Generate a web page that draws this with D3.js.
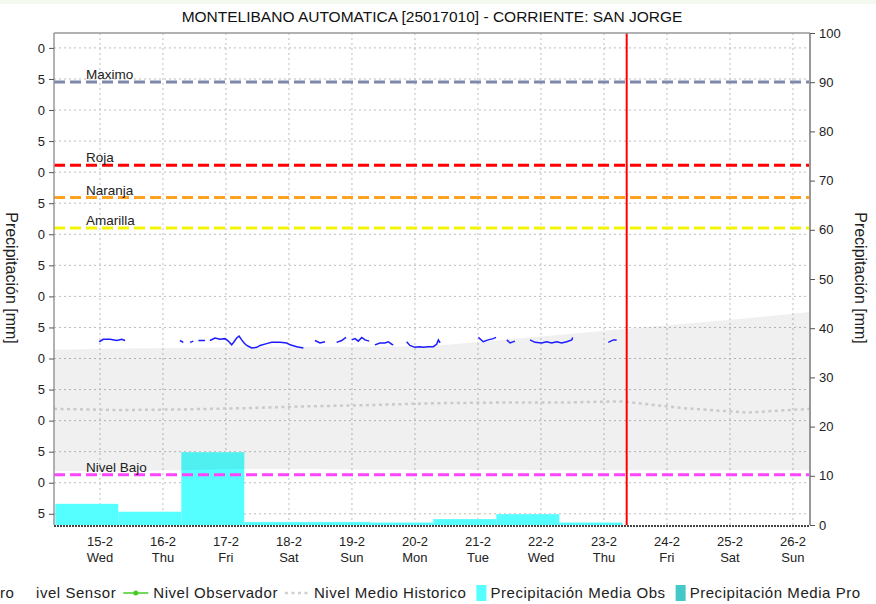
<!DOCTYPE html>
<html lang="es">
<head>
    <meta charset="UTF-8">
    <title>MONTELIBANO AUTOMATICA [25017010]</title>
    <script src="https://d3js.org/d3.v7.min.js"></script>
    <style>
        body {
            margin: 0;
            background-color: #ffffff;
        }

        svg {
            display: block;
            font-family: "Liberation Sans", Arial, sans-serif;
        }

        .grid line {
            stroke: #bdbdbd;
            stroke-width: 1;
            stroke-dasharray: 2, 3;
        }

        .tick text {
            fill: #222;
        }
    </style>
</head>

<body>
<svg width="876" height="604"></svg>

<script>
    const chartTitle = "MONTELIBANO AUTOMATICA [25017010] - CORRIENTE: SAN JORGE";
    const axisLabel = "Precipitación [mm]";

    // dias del eje x (Feb 2023)
    const dayTicks = ["15", "16", "17", "18", "19", "20", "21", "22", "23", "24", "25", "26"];
    const dayNames = ["Wed", "Thu", "Fri", "Sat", "Sun", "Mon", "Tue", "Wed", "Thu", "Fri", "Sat", "Sun"];

    // eje izquierdo (nivel) y derecho (precipitacion)
    const levelTicks = [8.0, 7.5, 7.0, 6.5, 6.0, 5.5, 5.0, 4.5, 4.0, 3.5, 3.0, 2.5, 2.0, 1.5, 1.0, 0.5];
    const precipTicks = [0, 10, 20, 30, 40, 50, 60, 70, 80, 90, 100];

    // precipitacion media observada, dia de 07:00 a 07:00
    const precipDays = ["14", "15", "16", "17", "18", "19", "20", "21", "22"];
    const precipObs = [4.3, 2.7, 14.8, 0.6, 0.6, 0.5, 1.2, 2.2, 0.5];

    // nivel historico (banda min-max y media)
    const histDays = ["14", "15", "16", "17", "18", "19", "20", "21", "22", "23", "24", "25", "26"];
    const histUpper = [3.14, 3.16, 3.17, 3.18, 3.19, 3.19, 3.20, 3.29, 3.38, 3.47, 3.56, 3.65, 3.75];
    const histLower = [1.19, 1.19, 1.20, 1.22, 1.22, 1.21, 1.21, 1.21, 1.20, 1.20, 1.20, 1.20, 1.20];
    const histMean = [2.19, 2.17, 2.18, 2.20, 2.23, 2.25, 2.28, 2.29, 2.29, 2.31, 2.20, 2.13, 2.19];

    // umbrales
    const thresholdNames = ["Maximo", "Roja", "Naranja", "Amarilla", "Nivel Bajo"];
    const thresholdLevels = [7.45, 6.11, 5.59, 5.10, 1.13];
    const thresholdColors = ["#7d88aa", "#ff0000", "#ffa21f", "#f5f500", "#ff44ff"];

    // nivel sensor, null = sin dato
    const sensorReadings = [
        ["14 23:45", 3.27], ["15 01:15", 3.31], ["15 03:50", 3.31], ["15 06:25", 3.29], ["15 08:15", 3.31], ["15 09:35", 3.29],
        null,
        ["16 06:30", 3.29], ["16 07:45", 3.26],
        null,
        ["16 10:20", 3.26], ["16 11:35", 3.28],
        null,
        ["16 13:30", 3.29], ["16 16:00", 3.29],
        null,
        ["16 17:55", 3.29], ["16 19:50", 3.33], ["16 21:45", 3.31], ["16 23:40", 3.32], ["17 00:55", 3.28], ["17 02:10", 3.22],
        ["17 03:05", 3.27], ["17 04:05", 3.33], ["17 05:00", 3.36], ["17 06:00", 3.30], ["17 06:55", 3.25], ["17 07:55", 3.21],
        ["17 08:55", 3.19], ["17 09:50", 3.17], ["17 11:45", 3.18], ["17 13:00", 3.21], ["17 15:30", 3.24], ["17 17:25", 3.26],
        ["17 20:35", 3.26], ["17 23:10", 3.25], ["18 00:25", 3.22], ["18 03:00", 3.19], ["18 05:30", 3.17],
        null,
        ["18 09:55", 3.29], ["18 11:50", 3.25], ["18 13:45", 3.27],
        null,
        ["18 18:10", 3.26], ["18 20:05", 3.29], ["18 21:45", 3.34],
        null,
        ["18 23:55", 3.30], ["19 01:10", 3.32], ["19 02:25", 3.28], ["19 03:45", 3.34], ["19 05:00", 3.30], ["19 06:35", 3.28],
        null,
        ["19 08:45", 3.22], ["19 10:40", 3.25], ["19 12:35", 3.25], ["19 13:50", 3.27], ["19 15:10", 3.23], ["19 15:45", 3.22],
        null,
        ["19 20:50", 3.27], ["19 22:05", 3.21], ["20 00:00", 3.18], ["20 01:55", 3.19], ["20 03:10", 3.18], ["20 05:05", 3.19],
        ["20 07:00", 3.19], ["20 08:15", 3.23], ["20 08:55", 3.30], ["20 09:35", 3.25],
        null,
        ["21 00:10", 3.34], ["21 02:00", 3.27], ["21 03:55", 3.30], ["21 05:50", 3.32], ["21 06:55", 3.34],
        null,
        ["21 11:00", 3.30], ["21 12:15", 3.25], ["21 14:05", 3.28],
        null,
        ["21 19:50", 3.30], ["21 21:45", 3.26], ["22 00:15", 3.25], ["22 02:10", 3.27], ["22 04:05", 3.25], ["22 06:00", 3.27],
        ["22 07:55", 3.25], ["22 09:50", 3.27], ["22 11:45", 3.30], ["22 12:05", 3.34],
        null,
        ["23 01:40", 3.26], ["23 03:35", 3.30], ["23 04:50", 3.30]
    ];

    const nowTime = "23 08:40";

    // leyenda (recortada a la izquierda como en la imagen)
    const legendNames = ["ro", "ivel Sensor", "Nivel Observador", "Nivel Medio Historico", "Precipitación Media Obs", "Precipitación Media Pro"];
    const legendSymbols = ["none", "none", "line-dot", "dash", "box", "box"];
    const legendColors = ["none", "none", "#44cc22", "#cfcfcf", "#55ffff", "#44c8c8"];

    const parseTime = d3.timeParse("%Y-%m-%d %H:%M");
    const feb = s => parseTime("2023-02-" + s);

    const svg = d3.select("svg");
    const plot = { left: 54, right: 810, top: 33, bottom: 525 };

    const x = d3.scaleTime()
        .domain([feb("14 06:30"), feb("26 06:30")])
        .range([plot.left, plot.right]);
    const yLevel = d3.scaleLinear().domain([0.32, 8.24]).range([plot.bottom, plot.top]);
    const yPrec = d3.scaleLinear().domain([0, 100]).range([plot.bottom, plot.top]);

    // franja superior
    svg.append("rect").attr("x", 0).attr("y", 0).attr("width", 876).attr("height", 4).attr("fill", "#f3f9ee");

    // titulo
    svg.append("text")
        .attr("x", 432).attr("y", 22)
        .attr("text-anchor", "middle")
        .attr("font-size", "15.5px")
        .attr("fill", "#111")
        .text(chartTitle);

    svg.append("defs").append("clipPath").attr("id", "plotClip")
        .append("rect")
        .attr("x", plot.left).attr("y", plot.top)
        .attr("width", plot.right - plot.left).attr("height", plot.bottom - plot.top);

    // rejilla
    const grid = svg.append("g").attr("class", "grid");
    grid.selectAll(".h").data(levelTicks).enter().append("line")
        .attr("x1", plot.left).attr("x2", plot.right)
        .attr("y1", d => yLevel(d)).attr("y2", d => yLevel(d));
    grid.selectAll(".v").data(dayTicks).enter().append("line")
        .attr("x1", d => x(feb(d + " 00:00"))).attr("x2", d => x(feb(d + " 00:00")))
        .attr("y1", plot.top).attr("y2", plot.bottom);

    const inner = svg.append("g").attr("clip-path", "url(#plotClip)");

    // barras de precipitacion
    inner.selectAll(".bar")
        .data(precipDays)
        .enter()
        .append("rect")
        .attr("class", "bar")
        .attr("x", d => x(feb(d + " 07:00")))
        .attr("width", d => x(d3.timeDay.offset(feb(d + " 07:00"), 1)) - x(feb(d + " 07:00")))
        .attr("y", (d, i) => yPrec(precipObs[i]))
        .attr("height", (d, i) => yPrec(0) - yPrec(precipObs[i]))
        .attr("fill", "#55ffff");

    // banda historica
    const band = d3.area()
        .x(d => x(feb(d + " 06:30")))
        .y0((d, i) => yLevel(histLower[i]))
        .y1((d, i) => yLevel(histUpper[i]));
    inner.append("path")
        .datum(histDays)
        .attr("d", band)
        .attr("fill", "#000")
        .attr("fill-opacity", 0.06);

    // nivel medio historico
    const meanLine = d3.line()
        .x(d => x(feb(d + " 06:30")))
        .y((d, i) => yLevel(histMean[i]));
    inner.append("path")
        .datum(histDays)
        .attr("d", meanLine)
        .attr("fill", "none")
        .attr("stroke", "#cacaca")
        .attr("stroke-width", 2.5)
        .attr("stroke-dasharray", "3,3.5");

    // umbrales
    thresholdNames.forEach((name, i) => {
        const yy = yLevel(thresholdLevels[i]);
        inner.append("line")
            .attr("x1", plot.left).attr("x2", plot.right)
            .attr("y1", yy).attr("y2", yy)
            .attr("stroke", thresholdColors[i])
            .attr("stroke-width", 3)
            .attr("stroke-dasharray", "11,5");
        svg.append("text")
            .attr("x", 86).attr("y", yy - 3)
            .attr("font-size", "13.5px")
            .attr("fill", "#222")
            .text(name);
    });

    // nivel sensor
    const sensorLine = d3.line()
        .defined(d => d !== null)
        .x(d => x(feb(d[0])))
        .y(d => yLevel(d[1]));
    inner.append("path")
        .datum(sensorReadings)
        .attr("d", sensorLine)
        .attr("fill", "none")
        .attr("stroke", "#1c1cff")
        .attr("stroke-width", 1.5);

    // linea de hora actual
    svg.append("line")
        .attr("x1", x(feb(nowTime))).attr("x2", x(feb(nowTime)))
        .attr("y1", plot.top).attr("y2", plot.bottom)
        .attr("stroke", "#ff0000")
        .attr("stroke-width", 2);

    // marco
    svg.append("line")
        .attr("x1", plot.left).attr("x2", plot.right)
        .attr("y1", plot.top).attr("y2", plot.top)
        .attr("stroke", "#999").attr("stroke-width", 1.5);
    svg.append("line")
        .attr("x1", plot.left).attr("x2", plot.right)
        .attr("y1", plot.bottom + 1).attr("y2", plot.bottom + 1)
        .attr("stroke", "#444").attr("stroke-width", 2)
        .attr("stroke-dasharray", "2,1");

    // eje izquierdo
    const leftAxis = svg.append("g")
        .attr("transform", `translate(${plot.left},0)`)
        .call(d3.axisLeft(yLevel)
            .tickValues(levelTicks)
            .tickSize(5)
            .tickPadding(4)
            .tickFormat(d => d3.format(".1f")(d).slice(-1)));
    leftAxis.selectAll(".tick text").attr("font-size", "13px").attr("font-family", null);
    leftAxis.selectAll(".tick line").attr("stroke", "#555");
    leftAxis.select(".domain").attr("stroke", "#999").attr("stroke-width", 1.5).attr("d", `M0,${plot.top}V${plot.bottom}`);

    // eje derecho
    const rightAxis = svg.append("g")
        .attr("transform", `translate(${plot.right},0)`)
        .call(d3.axisRight(yPrec).tickValues(precipTicks).tickSize(5).tickPadding(4));
    rightAxis.selectAll(".tick text").attr("font-size", "13px").attr("font-family", null);
    rightAxis.selectAll(".tick line").attr("stroke", "#555");
    rightAxis.select(".domain").attr("stroke", "#999").attr("stroke-width", 2).attr("d", `M0,${plot.top}V${plot.bottom}`);

    // eje x
    const xAxis = svg.append("g").attr("transform", `translate(0,${plot.bottom})`);
    dayTicks.forEach((d, i) => {
        const xx = x(feb(d + " 00:00"));
        const t = xAxis.append("text")
            .attr("text-anchor", "middle")
            .attr("font-size", "13px")
            .attr("fill", "#222");
        t.append("tspan").attr("x", xx).attr("y", 21).text(d + "-2");
        t.append("tspan").attr("x", xx).attr("y", 37).text(dayNames[i]);
    });

    // titulos de ejes
    [6, 855].forEach(px => {
        svg.append("text")
            .attr("transform", `translate(${px},278) rotate(90)`)
            .attr("text-anchor", "middle")
            .attr("font-size", "16px")
            .attr("fill", "#222")
            .text(axisLabel);
    });

    // leyenda
    const legend = svg.append("g")
        .attr("font-size", "15px")
        .attr("letter-spacing", "0.55px")
        .attr("fill", "#222");
    let lx = 0;
    legendNames.forEach((name, i) => {
        if (i === 1) lx = 36;
        const sym = legendSymbols[i];
        if (sym === "line-dot") {
            legend.append("line").attr("x1", lx).attr("x2", lx + 25).attr("y1", 593).attr("y2", 593)
                .attr("stroke", legendColors[i]).attr("stroke-width", 1.5);
            legend.append("circle").attr("cx", lx + 12.5).attr("cy", 593).attr("r", 2.5).attr("fill", legendColors[i]);
            lx += 30;
        } else if (sym === "dash") {
            legend.append("line").attr("x1", lx).attr("x2", lx + 25).attr("y1", 593).attr("y2", 593)
                .attr("stroke", legendColors[i]).attr("stroke-width", 2.5).attr("stroke-dasharray", "3,3.5");
            lx += 29;
        } else if (sym === "box") {
            legend.append("rect").attr("x", lx).attr("y", 585).attr("width", 10).attr("height", 16)
                .attr("fill", legendColors[i]);
            lx += 14;
        }
        const t = legend.append("text").attr("x", lx).attr("y", 598).text(name);
        lx += t.node().getComputedTextLength() + (i < 3 ? 7 : 10);
    });
</script>
</body>

</html>
